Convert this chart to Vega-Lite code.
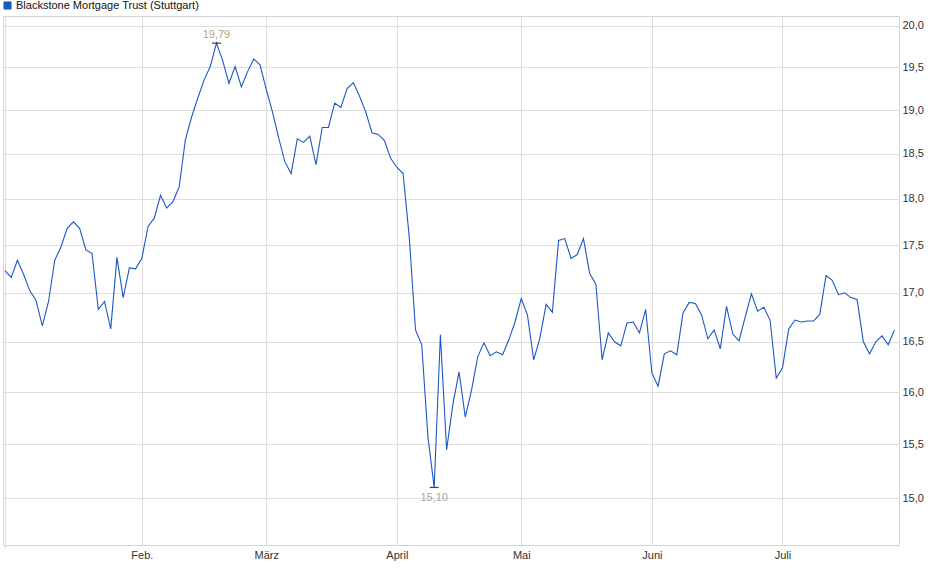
{
  "$schema": "https://vega.github.io/schema/vega-lite/v6.json",
  "width": 896,
  "height": 529,
  "autosize": {"type": "none"},
  "padding": {"left": 3, "top": 16, "right": 41, "bottom": 34},
  "background": "white",
  "datasets": {
    "prices": [
      {"i": 0, "price": 17.23}, {"i": 1, "price": 17.16}, {"i": 2, "price": 17.34}, {"i": 3, "price": 17.19},
      {"i": 4, "price": 17.02}, {"i": 5, "price": 16.92}, {"i": 6, "price": 16.66}, {"i": 7, "price": 16.91},
      {"i": 8, "price": 17.34}, {"i": 9, "price": 17.48}, {"i": 10, "price": 17.68}, {"i": 11, "price": 17.75},
      {"i": 12, "price": 17.68}, {"i": 13, "price": 17.45}, {"i": 14, "price": 17.41}, {"i": 15, "price": 16.83},
      {"i": 16, "price": 16.91}, {"i": 17, "price": 16.63}, {"i": 18, "price": 17.37}, {"i": 19, "price": 16.95},
      {"i": 20, "price": 17.26}, {"i": 21, "price": 17.25}, {"i": 22, "price": 17.36}, {"i": 23, "price": 17.70},
      {"i": 24, "price": 17.79}, {"i": 25, "price": 18.04}, {"i": 26, "price": 17.90}, {"i": 27, "price": 17.97},
      {"i": 28, "price": 18.13}, {"i": 29, "price": 18.66}, {"i": 30, "price": 18.92}, {"i": 31, "price": 19.14},
      {"i": 32, "price": 19.35}, {"i": 33, "price": 19.51}, {"i": 34, "price": 19.79}, {"i": 35, "price": 19.58},
      {"i": 36, "price": 19.31}, {"i": 37, "price": 19.51}, {"i": 38, "price": 19.27}, {"i": 39, "price": 19.45},
      {"i": 40, "price": 19.60}, {"i": 41, "price": 19.53}, {"i": 42, "price": 19.24}, {"i": 43, "price": 18.98},
      {"i": 44, "price": 18.68}, {"i": 45, "price": 18.41}, {"i": 46, "price": 18.28}, {"i": 47, "price": 18.67},
      {"i": 48, "price": 18.63}, {"i": 49, "price": 18.70}, {"i": 50, "price": 18.38}, {"i": 51, "price": 18.80},
      {"i": 52, "price": 18.80}, {"i": 53, "price": 19.08}, {"i": 54, "price": 19.03}, {"i": 55, "price": 19.25},
      {"i": 56, "price": 19.32}, {"i": 57, "price": 19.16}, {"i": 58, "price": 18.98}, {"i": 59, "price": 18.74},
      {"i": 60, "price": 18.72}, {"i": 61, "price": 18.65}, {"i": 62, "price": 18.45}, {"i": 63, "price": 18.35},
      {"i": 64, "price": 18.28}, {"i": 65, "price": 17.58}, {"i": 66, "price": 16.62}, {"i": 67, "price": 16.47},
      {"i": 68, "price": 15.57}, {"i": 69, "price": 15.10}, {"i": 70, "price": 16.57}, {"i": 71, "price": 15.45},
      {"i": 72, "price": 15.88}, {"i": 73, "price": 16.20}, {"i": 74, "price": 15.76}, {"i": 75, "price": 16.02},
      {"i": 76, "price": 16.35}, {"i": 77, "price": 16.49}, {"i": 78, "price": 16.36}, {"i": 79, "price": 16.40},
      {"i": 80, "price": 16.37}, {"i": 81, "price": 16.52}, {"i": 82, "price": 16.70}, {"i": 83, "price": 16.94},
      {"i": 84, "price": 16.77}, {"i": 85, "price": 16.32}, {"i": 86, "price": 16.54}, {"i": 87, "price": 16.88},
      {"i": 88, "price": 16.80}, {"i": 89, "price": 17.55}, {"i": 90, "price": 17.57}, {"i": 91, "price": 17.36},
      {"i": 92, "price": 17.40}, {"i": 93, "price": 17.57}, {"i": 94, "price": 17.20}, {"i": 95, "price": 17.09},
      {"i": 96, "price": 16.32}, {"i": 97, "price": 16.59}, {"i": 98, "price": 16.50}, {"i": 99, "price": 16.46},
      {"i": 100, "price": 16.69}, {"i": 101, "price": 16.70}, {"i": 102, "price": 16.59}, {"i": 103, "price": 16.83},
      {"i": 104, "price": 16.19}, {"i": 105, "price": 16.06}, {"i": 106, "price": 16.38}, {"i": 107, "price": 16.41},
      {"i": 108, "price": 16.37}, {"i": 109, "price": 16.79}, {"i": 110, "price": 16.90}, {"i": 111, "price": 16.89},
      {"i": 112, "price": 16.77}, {"i": 113, "price": 16.53}, {"i": 114, "price": 16.62}, {"i": 115, "price": 16.43},
      {"i": 116, "price": 16.86}, {"i": 117, "price": 16.58}, {"i": 118, "price": 16.51}, {"i": 119, "price": 16.75},
      {"i": 120, "price": 16.99}, {"i": 121, "price": 16.81}, {"i": 122, "price": 16.85}, {"i": 123, "price": 16.72},
      {"i": 124, "price": 16.14}, {"i": 125, "price": 16.24}, {"i": 126, "price": 16.63}, {"i": 127, "price": 16.72},
      {"i": 128, "price": 16.70}, {"i": 129, "price": 16.71}, {"i": 130, "price": 16.71}, {"i": 131, "price": 16.78},
      {"i": 132, "price": 17.18}, {"i": 133, "price": 17.13}, {"i": 134, "price": 16.98}, {"i": 135, "price": 17.00},
      {"i": 136, "price": 16.95}, {"i": 137, "price": 16.93}, {"i": 138, "price": 16.50}, {"i": 139, "price": 16.38},
      {"i": 140, "price": 16.50}, {"i": 141, "price": 16.56}, {"i": 142, "price": 16.47}, {"i": 143, "price": 16.62}
    ],
    "extremes": [
      {"i": 34, "price": 19.79, "label": "19,79", "kind": "max"},
      {"i": 69, "price": 15.10, "label": "15,10", "kind": "min"}
    ]
  },
  "layer": [
    {
      "data": {"name": "prices"},
      "mark": {"type": "line", "strokeWidth": 1.1, "interpolate": "linear"},
      "encoding": {
        "x": {
          "field": "i",
          "type": "quantitative",
          "scale": {"domain": [-0.32, 143.73], "nice": false, "zero": false},
          "axis": {
            "title": null,
            "values": [0, 22, 42, 63, 83, 104, 125],
            "labelExpr": "datum.value == 22 ? 'Feb.' : datum.value == 42 ? 'März' : datum.value == 63 ? 'April' : datum.value == 83 ? 'Mai' : datum.value == 104 ? 'Juni' : datum.value == 125 ? 'Juli' : ''",
            "grid": true,
            "domain": false,
            "tickSize": 3,
            "tickColor": "#d4d4d4",
            "tickOpacity": {"condition": {"test": "datum.value == 0", "value": 1}, "value": 0},
            "labelPadding": 1,
            "labelOverlap": false,
            "labelFlush": false
          }
        },
        "y": {
          "field": "price",
          "type": "quantitative",
          "scale": {"type": "log", "domain": [14.58, 20.12], "nice": false, "zero": false},
          "axis": {
            "orient": "right",
            "title": null,
            "values": [15, 15.5, 16, 16.5, 17, 17.5, 18, 18.5, 19, 19.5, 20],
            "labelExpr": "replace(format(datum.value, '.1f'), '.', ',')",
            "grid": true,
            "domain": false,
            "ticks": false,
            "labelPadding": 3,
            "labelOverlap": false,
            "labelFlush": false
          }
        },
        "color": {
          "datum": "Blackstone Mortgage Trust (Stuttgart)",
          "scale": {"range": ["#1c58c4"]},
          "legend": {
            "title": null,
            "orient": "none",
            "legendX": -1,
            "legendY": -16,
            "padding": 0,
            "symbolType": "square",
            "symbolSize": 50,
            "symbolFillColor": "#1c58c4",
            "symbolStrokeColor": "#0f2f70",
            "symbolStrokeWidth": 1,
            "labelFont": "Liberation Sans",
            "labelFontSize": 11,
            "labelColor": "#111111",
            "labelOffset": 3,
            "labelLimit": 0
          }
        }
      }
    },
    {
      "data": {"name": "extremes"},
      "mark": {"type": "tick", "orient": "horizontal", "size": 9, "thickness": 1.3, "color": "#000000"},
      "encoding": {
        "x": {"field": "i", "type": "quantitative"},
        "y": {"field": "price", "type": "quantitative"}
      }
    },
    {
      "data": {"name": "extremes"},
      "transform": [{"filter": "datum.kind == 'max'"}],
      "mark": {"type": "text", "font": "Liberation Sans", "fontSize": 11, "baseline": "alphabetic", "align": "center", "dy": -5, "color": "#b3a28e"},
      "encoding": {
        "x": {"field": "i", "type": "quantitative"},
        "y": {"field": "price", "type": "quantitative"},
        "text": {"field": "label"}
      }
    },
    {
      "data": {"name": "extremes"},
      "transform": [{"filter": "datum.kind == 'min'"}],
      "mark": {"type": "text", "font": "Liberation Sans", "fontSize": 11, "baseline": "alphabetic", "align": "center", "dy": 14, "color": "#a4a6ad"},
      "encoding": {
        "x": {"field": "i", "type": "quantitative"},
        "y": {"field": "price", "type": "quantitative"},
        "text": {"field": "label"}
      }
    }
  ],
  "config": {
    "view": {"stroke": "#d4d4d4"},
    "axis": {
      "labelFont": "Liberation Sans",
      "labelFontSize": 11,
      "labelColor": "#333333",
      "gridColor": "#dddddd",
      "gridWidth": 1
    }
  }
}
